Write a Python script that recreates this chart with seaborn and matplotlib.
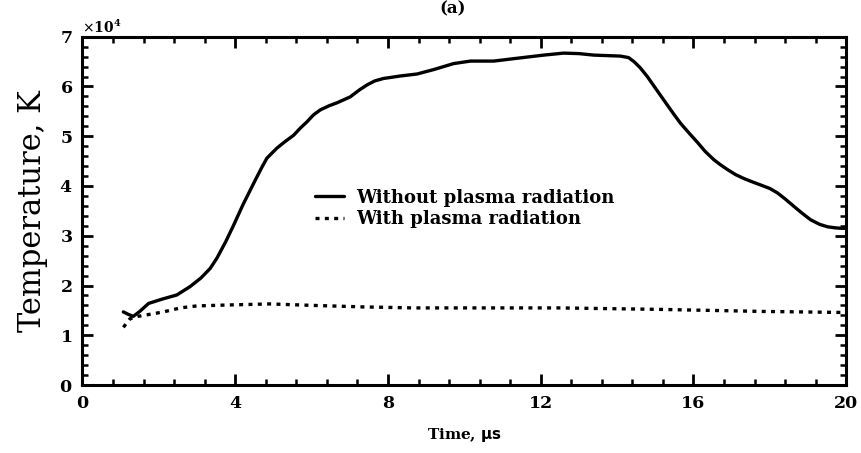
import numpy as np
import pandas as pd
import matplotlib
matplotlib.use("Agg")
import matplotlib.pyplot as plt
from matplotlib.ticker import MultipleLocator, ScalarFormatter
from matplotlib.lines import Line2D
import seaborn as sns

# ---- data (temperature in K, time in microseconds) ----
t_without = [1.07, 1.20, 1.33, 1.50, 1.73, 2.10, 2.47, 2.82, 3.10, 3.34, 3.52, 3.75,
             3.95, 4.20, 4.48, 4.70, 4.83, 5.09, 5.30, 5.53, 5.70, 5.88, 6.05, 6.23,
             6.45, 6.66, 7.01, 7.25, 7.45, 7.65, 7.88, 8.32, 8.76, 9.20, 9.72, 10.16,
             10.77, 11.20, 11.64, 12.08, 12.60, 13.00, 13.39, 14.09, 14.30, 14.44,
             14.60, 14.79, 15.00, 15.22, 15.45, 15.66, 15.90, 16.10, 16.30, 16.53,
             16.70, 16.89, 17.10, 17.32, 17.55, 17.76, 18.00, 18.20, 18.40, 18.63,
             18.85, 19.07, 19.30, 19.51, 19.70, 19.86, 20.0]
T_without = [14700, 14200, 13800, 14800, 16400, 17300, 18100, 19800, 21500, 23400,
             25500, 28800, 32000, 36200, 40500, 43800, 45600, 47600, 48900, 50200,
             51600, 52900, 54300, 55300, 56100, 56700, 57900, 59300, 60300, 61100,
             61600, 62100, 62500, 63400, 64600, 65100, 65100, 65500, 65900, 66300,
             66700, 66600, 66300, 66100, 65800, 65000, 63800, 62000, 59700, 57300,
             54800, 52600, 50500, 48800, 47000, 45300, 44300, 43300, 42300, 41500,
             40800, 40200, 39500, 38600, 37400, 35900, 34500, 33200, 32300, 31800,
             31600, 31500, 31500]

t_with = [1.07, 1.24, 1.45, 1.68, 2.12, 2.56, 2.99, 3.87, 4.91, 6.05, 7.36, 8.67,
          9.90, 11.00, 12.50, 15.14, 17.76, 19.77, 20.0]
T_with = [11600, 13300, 13800, 14100, 14700, 15500, 15900, 16100, 16300, 16000,
          15700, 15500, 15500, 15500, 15500, 15200, 14800, 14600, 14600]

labels = ["Without plasma radiation", "With plasma radiation"]

df = pd.concat([
    pd.DataFrame({"Time": t_without, "Temperature": T_without, "Case": labels[0]}),
    pd.DataFrame({"Time": t_with, "Temperature": T_with, "Case": labels[1]}),
], ignore_index=True)

sns.set_theme(style="ticks")
plt.rcParams["font.family"] = ["DejaVu Serif"]
plt.rcParams["text.color"] = "black"
plt.rcParams["axes.labelcolor"] = "black"
plt.rcParams["xtick.color"] = "black"
plt.rcParams["ytick.color"] = "black"

fig = plt.figure(figsize=(8.62, 4.53), dpi=100)
ax = fig.add_axes([0.0957, 0.150, 0.886, 0.769])

sns.lineplot(data=df, x="Time", y="Temperature", hue="Case", style="Case",
             palette=["black", "black"], dashes=[(None, None), (1.2, 1.6)],
             linewidth=2.4, ax=ax, legend=False, sort=False, estimator=None)

ax.set_xlim(0, 20)
ax.set_ylim(0, 70000)
ax.xaxis.set_major_locator(MultipleLocator(4))
ax.xaxis.set_minor_locator(MultipleLocator(0.8))
ax.yaxis.set_major_locator(MultipleLocator(10000))
ax.yaxis.set_minor_locator(MultipleLocator(2000))

fmt = ScalarFormatter(useMathText=True)
fmt.set_powerlimits((0, 0))
ax.yaxis.set_major_formatter(fmt)

for s in ax.spines.values():
    s.set_linewidth(2.2)
    s.set_color("black")
    s.set_visible(True)

ax.tick_params(which="both", direction="in", top=True, right=True, colors="black")
ax.tick_params(which="major", length=8, width=2.0, labelsize=12.5, pad=7)
ax.tick_params(which="minor", length=4.5, width=1.8)
for lab in ax.get_xticklabels() + ax.get_yticklabels():
    lab.set_fontweight("bold")
ax.yaxis.get_offset_text().set_fontweight("bold")
ax.yaxis.get_offset_text().set_fontsize(10)
ax.yaxis.get_offset_text().set_color("black")

ax.set_xlabel("Time, $\\mathbf{\\mu s}$", fontsize=11, fontweight="bold", labelpad=10,
              color="black")
ax.set_ylabel("Temperature, K", fontsize=22, labelpad=8, color="black")

handles = [Line2D([], [], color="black", lw=2.4),
           Line2D([], [], color="black", lw=2.4, dashes=(1.2, 1.6))]
leg = ax.legend(handles, labels, loc="upper left", bbox_to_anchor=(0.283, 0.61),
                frameon=False, handlelength=1.6, handletextpad=0.7,
                labelspacing=0.2, prop={"weight": "bold", "size": 13})
for txt in leg.get_texts():
    txt.set_color("black")

fig.text(0.525, 0.999, "(a)", ha="center", va="top", fontsize=12, fontweight="bold",
         color="black")

fig.savefig("out.png", dpi=100)
